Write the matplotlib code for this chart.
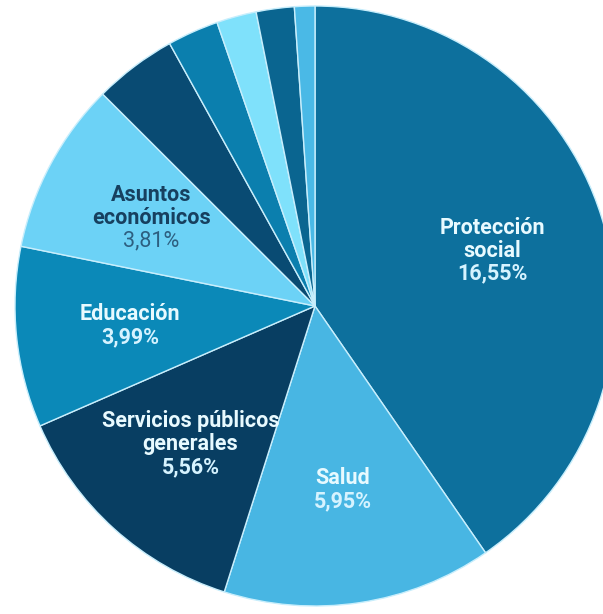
import numpy as np
import matplotlib.pyplot as plt

plt.rcParams['font.family'] = ['Roboto', 'DejaVu Sans']

# Gasto público por funciones (% del PIB)
categorias = ['Protección\nsocial', 'Salud', 'Servicios públicos\ngenerales', 'Educación',
              'Asuntos\neconómicos', 'Orden público\ny seguridad', 'Ocio, cultura\ny religión',
              'Defensa', 'Protección del\nmedio ambiente', 'Vivienda']
valores = [16.55, 5.95, 5.56, 3.99, 3.81, 1.83, 1.13, 0.88, 0.84, 0.45]
mostrar = [True, True, True, True, True, False, False, False, False, False]

colores = ['#0d709d', '#48b6e3', '#083e62', '#0b89b8', '#6cd2f6',
           '#094b73', '#0b7fae', '#7fe1fb', '#0a6590', '#4ab9e6']
texto_nombre = ['#e8faff', '#e8faff', '#e8faff', '#e8faff', '#17405f']
texto_pct = ['#d6f3ff', '#d6f3ff', '#d6f3ff', '#d6f3ff', '#2d5f80']
peso_pct = ['bold', 'bold', 'bold', 'bold', 'normal']

W, H = 603, 614
fig = plt.figure(figsize=(W / 100, H / 100), dpi=100)
ax = fig.add_axes([0, 0, 1, 1])
cx, cy, r = 315, H - 306, 300

wedges, _ = ax.pie(valores, colors=colores, startangle=90, counterclock=False,
                   center=(cx, cy), radius=r,
                   wedgeprops=dict(edgecolor='#c8eefc', linewidth=1.0))

# etiquetas dentro de las porciones grandes
k = 0
for w, nombre, v, show in zip(wedges, categorias, valores, mostrar):
    if not show:
        continue
    ang = np.deg2rad((w.theta1 + w.theta2) / 2)
    x = cx + 0.62 * r * np.cos(ang)
    y = cy + 0.62 * r * np.sin(ang)
    lineas = nombre.split('\n')
    pct = f'{v:.2f}%'.replace('.', ',')
    n = len(lineas) + 1
    paso = 23
    y0 = y + paso * (n - 1) / 2
    for i, ln in enumerate(lineas):
        ax.text(x, y0 - i * paso, ln, ha='center', va='center', fontsize=15.5,
                fontweight='bold', color=texto_nombre[k])
    ax.text(x, y0 - (n - 1) * paso, pct, ha='center', va='center', fontsize=15.5,
            fontweight=peso_pct[k], color=texto_pct[k])
    k += 1

ax.set_xlim(0, W)
ax.set_ylim(0, H)
ax.set_aspect('equal')
ax.axis('off')

fig.savefig('out.png', dpi=100, facecolor='white')
